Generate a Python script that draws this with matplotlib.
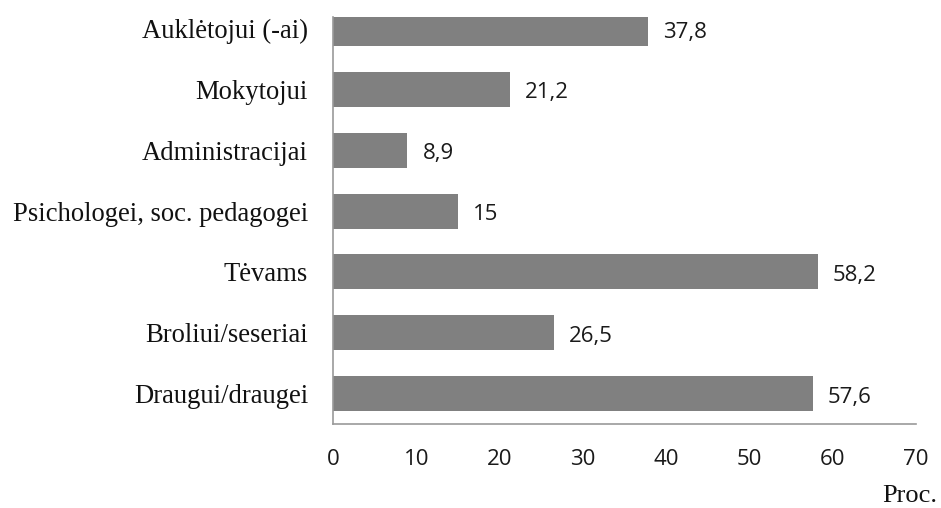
import matplotlib
matplotlib.use("Agg")
import matplotlib.pyplot as plt

# data, top to bottom as shown
categories = [
    "Auklėtojui (-ai)",
    "Mokytojui",
    "Administracijai",
    "Psichologei, soc. pedagogei",
    "Tėvams",
    "Broliui/seseriai",
    "Draugui/draugei",
]
values = [37.8, 21.2, 8.9, 15, 58.2, 26.5, 57.6]
x_ticks = [0, 10, 20, 30, 40, 50, 60, 70]
x_label = "Proc."

bar_color = "#808080"
axis_color = "#9a9a9a"
serif = "Liberation Serif"
sans = "Open Sans"

fig = plt.figure(figsize=(9.41, 5.08), dpi=100)
ax = fig.add_axes([0.3539, 0.1654, 0.6196, 0.8012])

pos = list(range(len(categories)))
bars = ax.barh(pos, values, height=0.576, color=bar_color)

for b, v in zip(bars, values):
    label = f"{v:g}".replace(".", ",")
    ax.annotate(label, (b.get_width(), b.get_y() + b.get_height() / 2),
                xytext=(11, -2.5), textcoords="offset points",
                va="center", ha="left", fontsize=16, family=sans,
                color="#1a1a1a")

ax.set_xlim(0, 70)
ax.set_ylim(6.5, -0.192)
ax.set_xticks(x_ticks)
ax.set_xticklabels([str(t) for t in x_ticks], fontsize=16, family=sans,
                   color="#1a1a1a")
ax.set_yticks(pos)
ax.set_yticklabels(categories, fontsize=19.2, family=serif, color="#111111")
ax.tick_params(axis="x", length=0, pad=18)
ax.tick_params(axis="y", length=0, pad=18)

for side in ["top", "right"]:
    ax.spines[side].set_visible(False)
for side in ["left", "bottom"]:
    ax.spines[side].set_color(axis_color)
    ax.spines[side].set_linewidth(1.2)

fig.text(0.967, 0.012, x_label, ha="center", va="baseline", fontsize=19,
         family=serif, color="#111111")

fig.savefig("out.png", dpi=100)
plt.close(fig)
